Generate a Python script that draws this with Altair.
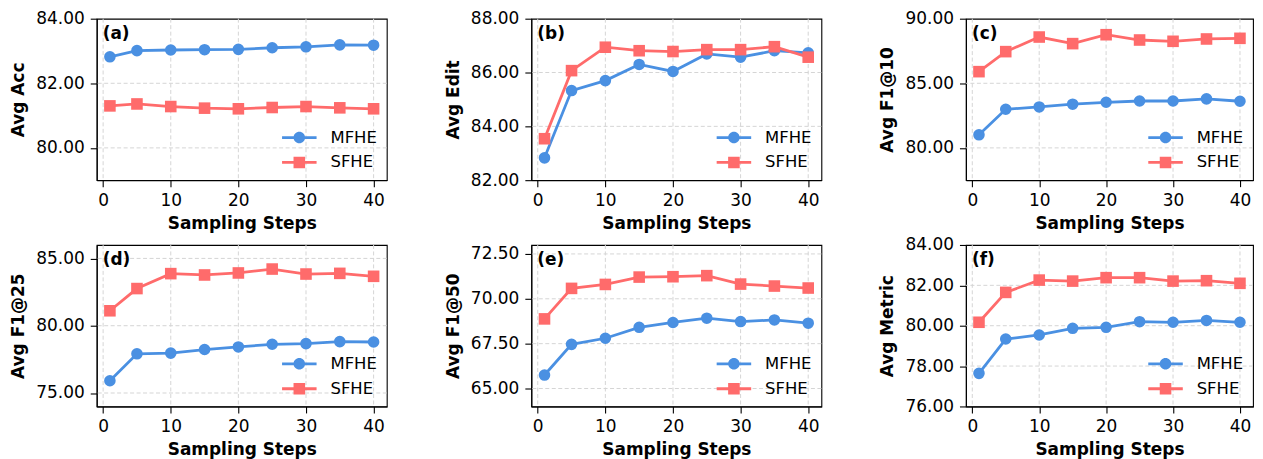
import altair as alt
import pandas as pd

FONT = "DejaVu Sans"

steps = [1, 5, 10, 15, 20, 25, 30, 35, 40]
series_names = ["MFHE", "SFHE"]
series_colors = ["#4a90e2", "#ff6b6b"]

acc_mfhe = [82.82, 83.01, 83.03, 83.04, 83.05, 83.10, 83.13, 83.19, 83.18]
acc_sfhe = [81.30, 81.36, 81.28, 81.23, 81.21, 81.25, 81.28, 81.24, 81.21]
edit_mfhe = [82.83, 85.33, 85.70, 86.30, 86.04, 86.69, 86.57, 86.81, 86.73]
edit_sfhe = [83.54, 86.07, 86.94, 86.81, 86.78, 86.85, 86.85, 86.96, 86.57]
f10_mfhe = [81.01, 82.99, 83.17, 83.38, 83.53, 83.63, 83.63, 83.79, 83.61]
f10_sfhe = [85.90, 87.45, 88.58, 88.07, 88.76, 88.35, 88.25, 88.43, 88.48]
f25_mfhe = [75.91, 77.91, 77.96, 78.23, 78.42, 78.62, 78.67, 78.82, 78.79]
f25_sfhe = [81.11, 82.76, 83.87, 83.77, 83.92, 84.21, 83.84, 83.89, 83.67]
f50_mfhe = [65.75, 67.46, 67.80, 68.41, 68.68, 68.92, 68.73, 68.82, 68.64]
f50_sfhe = [68.88, 70.58, 70.80, 71.21, 71.23, 71.29, 70.82, 70.71, 70.60]
met_mfhe = [77.64, 79.34, 79.54, 79.87, 79.92, 80.20, 80.17, 80.26, 80.17]
met_sfhe = [80.17, 81.65, 82.26, 82.21, 82.38, 82.38, 82.21, 82.23, 82.10]

panel_labels = ["(a)", "(b)", "(c)", "(d)", "(e)", "(f)"]
y_titles = ["Avg Acc", "Avg Edit", "Avg F1@10", "Avg F1@25", "Avg F1@50", "Avg Metric"]
y_domains = [[79, 84], [82, 88], [77.5, 90], [74, 86], [64, 73], [76, 84]]
y_ticks = [[80, 82, 84], [82, 84, 86, 88], [80, 85, 90], [75, 80, 85],
           [65, 67.5, 70, 72.5], [76, 78, 80, 82, 84]]
x_ticks = [0, 10, 20, 30, 40]
x_title = "Sampling Steps"
x_domain = [-0.95, 41.95]

panel_values = [(acc_mfhe, acc_sfhe), (edit_mfhe, edit_sfhe), (f10_mfhe, f10_sfhe),
                (f25_mfhe, f25_sfhe), (f50_mfhe, f50_sfhe), (met_mfhe, met_sfhe)]
panel_widths = [291, 291, 288, 291, 291, 288]
PANEL_H = 162

GRID_COLOR = "#d5d5d5"
GRID_DASH = [4, 2.5]

# legend symbols: line with marker in the middle (custom SVG paths)
sym_line_circle = "M-2.98,-0.24H2.98V0.24H-2.98Z M-1,0A1,1 0 1,1 1,0A1,1 0 1,1 -1,0Z"
sym_line_square = "M-2.98,-0.24H2.98V0.24H-2.98Z M-1,-1H1V1H-1Z"

MARK_SIZE = 135


def make_panel(i):
    mf, sf = panel_values[i]
    df = pd.DataFrame({
        "step": steps + steps,
        "value": mf + sf,
        "series": [series_names[0]] * len(steps) + [series_names[1]] * len(steps),
    })
    x_scale = alt.Scale(domain=x_domain, nice=False, zero=False)
    y_scale = alt.Scale(domain=y_domains[i], nice=False, zero=False)
    x_axis = alt.Axis(values=x_ticks, format="d", title=x_title, labelFlush=False, grid=False)
    y_axis = alt.Axis(values=y_ticks[i], format=".2f", title=y_titles[i], grid=False)
    x = alt.X("step:Q", scale=x_scale, axis=x_axis)
    y = alt.Y("value:Q", scale=y_scale, axis=y_axis)

    lo, hi = y_domains[i]
    ygrid = alt.Chart(pd.DataFrame({"v": y_ticks[i]})).transform_filter(
        f"datum.v > {lo} && datum.v < {hi}"
    ).mark_rule(color=GRID_COLOR, strokeDash=GRID_DASH, strokeWidth=1).encode(
        y=alt.Y("v:Q", scale=y_scale, axis=y_axis))
    xgrid = alt.Chart(pd.DataFrame({"v": x_ticks})).mark_rule(
        color=GRID_COLOR, strokeDash=GRID_DASH, strokeWidth=1).encode(
        x=alt.X("v:Q", scale=x_scale, axis=x_axis))

    base = alt.Chart(df)
    layers = [ygrid, xgrid]
    for s, c, shp in zip(series_names, series_colors, ["circle", "square"]):
        b = base.transform_filter(alt.datum.series == s)
        layers.append(b.mark_line(color=c, strokeWidth=2.8).encode(x=x, y=y))
        if shp == "circle":
            pm = b.mark_circle(color=c, size=MARK_SIZE, opacity=1)
        else:
            pm = b.mark_square(color=c, size=MARK_SIZE, opacity=1)
        layers.append(pm.encode(x=x, y=y))
    leg = alt.Legend(title=None, orient="bottom-right", offset=9, padding=0,
                     labelFont=FONT, labelFontSize=16.5, labelColor="black",
                     symbolSize=MARK_SIZE, symbolStrokeWidth=0, symbolOpacity=1,
                     labelOffset=23, rowPadding=8)
    legend_layer = base.transform_filter("false").mark_point(filled=True, opacity=1).encode(
        x=x, y=y,
        color=alt.Color("series:N", scale=alt.Scale(domain=series_names, range=series_colors), legend=leg),
        shape=alt.Shape("series:N", scale=alt.Scale(domain=series_names,
                                                    range=[sym_line_circle, sym_line_square]), legend=leg),
    )
    label = alt.Chart(pd.DataFrame({"t": [panel_labels[i]]})).mark_text(
        font=FONT, fontSize=17, fontWeight="bold", align="left", baseline="middle", color="black"
    ).encode(text="t:N", x=alt.value(6), y=alt.value(15))
    return alt.layer(*layers, legend_layer, label).properties(width=panel_widths[i], height=PANEL_H)


panels = [make_panel(i) for i in range(6)]

chart = alt.ConcatChart(
    concat=panels, columns=3, spacing={"row": 65, "column": 145}, bounds="flush"
).resolve_scale(
    x="independent", y="independent", color="independent", shape="independent"
).resolve_legend(
    color="independent", shape="independent"
).properties(
    padding={"left": 1, "top": 0, "right": 0, "bottom": 0}
).configure_view(
    stroke="black", strokeWidth=1.1
).configure_axis(
    labelFont=FONT, labelFontSize=17, labelColor="black",
    titleFont=FONT, titleFontSize=17, titleFontWeight="bold", titleColor="black",
    domainColor="black", domainWidth=1.1, tickColor="black", tickWidth=1.1, tickSize=6.5,
    labelPadding=6, grid=False
).configure_axisY(
    titlePadding=8
).configure_axisX(
    titlePadding=7
)

chart.save("out.html", embed_options={"renderer": "svg", "actions": False})
